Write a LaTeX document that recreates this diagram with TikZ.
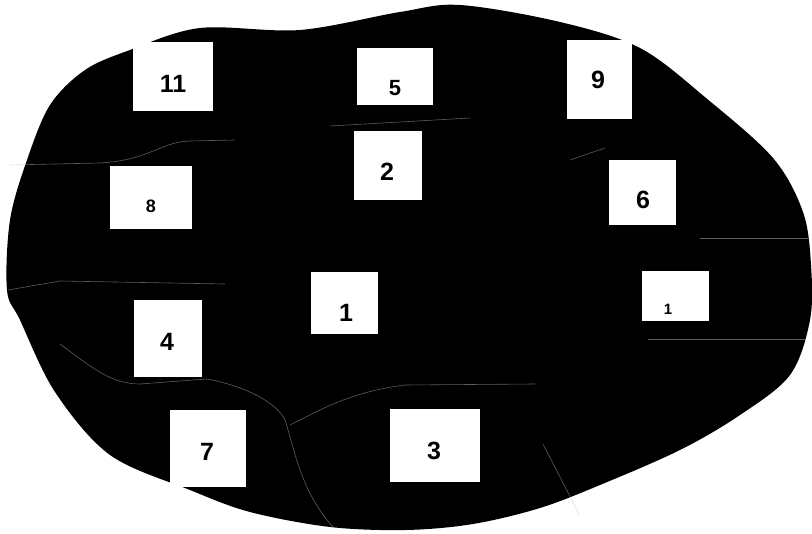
\documentclass[tikz,border=0pt]{standalone}
\usepackage{fontspec}
\newfontfamily\lotfont{Liberation Sans}
\usepackage{tikz}
\newcommand\lotsize[1]{\fontsize{#1}{#1}\selectfont}
\tikzset{
  lotbox/.style={
    fill=white,
    draw=none,
    inner sep=0pt
  },
  lotnum/.style={
    inner sep=0pt,
    font=\lotfont\bfseries
  },
  seam/.style={gray!55,line width=0.6pt,opacity=0.5}
}

\begin{document}
\begin{tikzpicture}[x=1pt,y=-1pt]
  \useasboundingbox (0,0) rectangle (812,534);
  \fill[black] plot[smooth cycle,tension=0.55] coordinates {
    (130,50) (200,28) (300,30) (400,12) (460,5) (560,22) (640,48)
    (706,98) (773,158) (803,212) (811,265) (810,320) (790,375)
    (740,415) (680,450) (600,485) (540,508) (473,524) (406,530)
    (330,527) (250,512) (190,490) (110,455) (55,392) (20,320)
    (7,290) (10,220) (27,160) (50,105) (85,70)};
  \draw[seam] (10,165) -- (100,163) .. controls (150,160) and (160,142) .. (190,141) -- (235,140);
  \draw[seam] (330,126) -- (470,118);
  \draw[seam] (8,290) -- (60,281) -- (225,284);
  \draw[seam] (60,344) .. controls (90,366) and (110,384) .. (140,384)
    -- (207,379) .. controls (240,385) and (275,400) .. (285,420)
    .. controls (295,450) and (300,490) .. (333,527);
  \draw[seam] (290,425) .. controls (320,410) and (350,392) .. (405,385) -- (535,384);
  \draw[seam] (543,444) -- (579,514);
  \draw[seam] (570,160) -- (605,148);
  \draw[seam] (700,238) -- (810,238);
  \draw[seam] (648,339) -- (806,339);
  \node[lotbox,minimum width=80,minimum height=69] (b11) at (173,76.5) {};
  \node[lotbox,minimum width=76,minimum height=57] (b5) at (395,76.5) {};
  \node[lotbox,minimum width=65,minimum height=79] (b9) at (599.5,79.5) {};
  \node[lotbox,minimum width=68,minimum height=69] (b2) at (388,165.5) {};
  \node[lotbox,minimum width=82,minimum height=63] (b8) at (151,197.5) {};
  \node[lotbox,minimum width=67,minimum height=65] (b6) at (642.5,192.5) {};
  \node[lotbox,minimum width=67,minimum height=62] (b1) at (344.5,303) {};
  \node[lotbox,minimum width=67,minimum height=50] (b1r) at (675.5,296) {};
  \node[lotbox,minimum width=68,minimum height=77] (b4) at (168,338.5) {};
  \node[lotbox,minimum width=76,minimum height=77] (b7) at (208,448.5) {};
  \node[lotbox,minimum width=90,minimum height=73] (b3) at (435,445.5) {};
  \node[lotnum] (n11) at (173,84) {\lotsize{25}11};
  \node[lotnum] (n5) at (395,88) {\lotsize{22}5};
  \node[lotnum] (n9) at (598,80) {\lotsize{25}9};
  \node[lotnum] (n2) at (387,172) {\lotsize{25}2};
  \node[lotnum] (n8) at (151,206) {\lotsize{18}8};
  \node[lotnum] (n6) at (643,200) {\lotsize{25}6};
  \node[lotnum] (n1) at (346,313) {\lotsize{25}1};
  \node[lotnum] (n1r) at (668,309) {\lotsize{15}1};
  \node[lotnum] (n4) at (167,342) {\lotsize{25}4};
  \node[lotnum] (n7) at (207,452) {\lotsize{25}7};
  \node[lotnum] (n3) at (434,451) {\lotsize{25}3};
\end{tikzpicture}
\end{document}
